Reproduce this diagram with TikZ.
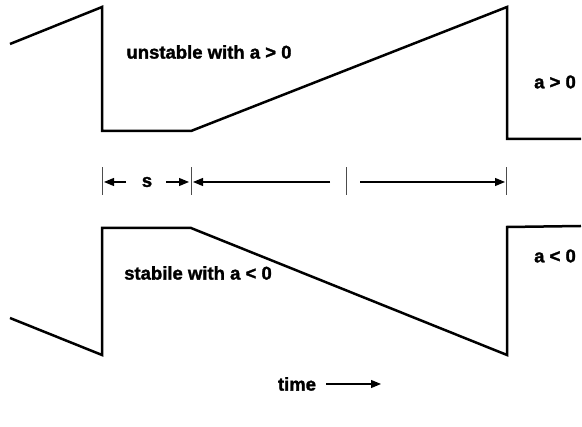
\documentclass[tikz,border=0pt]{standalone}
\usepackage{fontspec}
\setmainfont{Liberation Sans}[BoldFeatures={FakeBold=1.6}]
\usetikzlibrary{arrows.meta}
\begin{document}
\begin{tikzpicture}[x=1pt,y=-1pt,
  wave/.style={line width=2.5pt,line join=miter},
  lbl/.style={font=\fontsize{18.5}{20}\selectfont\bfseries,inner sep=0pt},
  tick/.style={line width=0.9pt,draw=black!70},
  dim/.style={line width=1.1pt,-{Triangle[length=10pt,width=8pt]}}]
\useasboundingbox (0,0) rectangle (582,427);
% top waveform
\draw[wave] (10,44) -- (102,7) -- (102,131) -- (191,131) -- (507,7) -- (507,139) -- (581,139);
\node[lbl] (unst) at (209,52) {unstable with a > 0};
\node[lbl] (apos) at (555,82) {a > 0};
% dimension line
\coordinate (t1) at (102,182);
\coordinate (t2) at (191,182);
\coordinate (t3) at (346,182);
\coordinate (t4) at (506,182);
\foreach \t in {t1,t2,t3,t4}
  \draw[tick] ([yshift=-13pt]\t) -- ([yshift=15pt]\t);
\node[lbl] (s) at (147,182) {s};
\coordinate (a1s) at (126,182);
\coordinate (a2s) at (166,182);
\coordinate (a3s) at (330,182);
\coordinate (a4s) at (360,182);
\draw[dim] (a1s) -- ([xshift=2pt]t1);
\draw[dim] (a2s) -- ([xshift=-2pt]t2);
\draw[dim] (a3s) -- ([xshift=2pt]t2);
\draw[dim] (a4s) -- ([xshift=-1pt]t4);
% bottom waveform
\draw[wave] (10,318) -- (102,355) -- (102,228) -- (191,228) -- (507,355) -- (507,227) -- (581,226);
\node[lbl] (stab) at (198,273) {stabile with a < 0};
\node[lbl] (aneg) at (555,256) {a < 0};
% time
\node[lbl] (time) at (297,384) {time};
\coordinate (te) at (381,384);
\draw[dim] ([xshift=10pt]time.east) -- (te);
\end{tikzpicture}
\end{document}
